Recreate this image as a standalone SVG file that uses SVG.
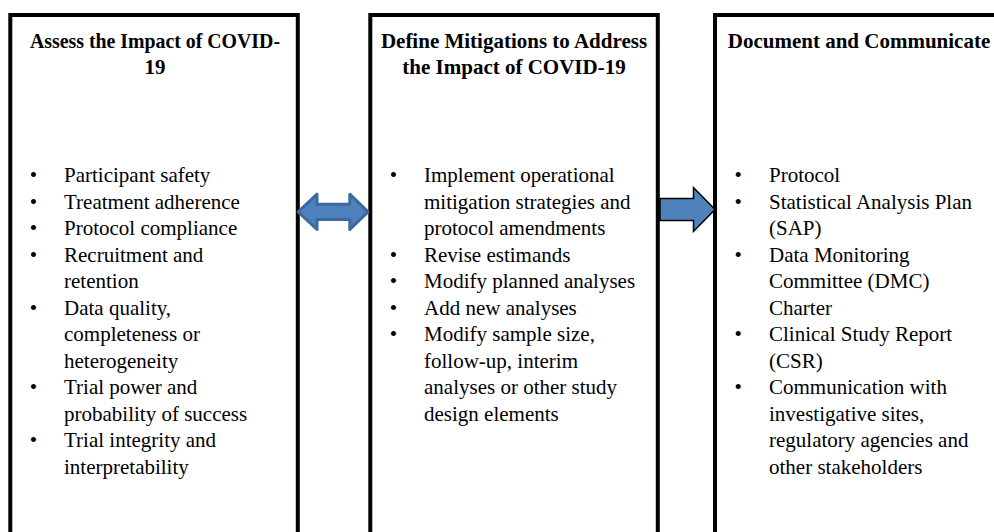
<svg xmlns="http://www.w3.org/2000/svg" width="994" height="532" viewBox="0 0 994 532">
<style>
.box{fill:#fff;stroke:#000;stroke-width:4}
.title{font-family:"Liberation Serif","Times New Roman",serif;font-size:21px;font-weight:bold;fill:#000;text-anchor:middle}
.body{font-family:"Liberation Serif","Times New Roman",serif;font-size:21px;fill:#000}
.dbl{fill:#4F81BD;stroke:#3C6A9E;stroke-width:3;stroke-linejoin:round}
.sgl{fill:#4F81BD;stroke:#000;stroke-width:1.5;stroke-linejoin:miter}
</style>
<rect width="994" height="532" fill="#fff"/>
<g id="assess">
<rect class="box" x="10.3" y="15" width="287.5" height="560"/>
<text class="title" x="155"><tspan x="155" y="47.5" textLength="250" lengthAdjust="spacingAndGlyphs">Assess the Impact of COVID-</tspan><tspan x="155" y="74">19</tspan></text>
<text class="body">
<tspan x="29.8" y="182">•</tspan><tspan x="64" y="182">Participant safety</tspan>
<tspan x="29.8" y="208.5">•</tspan><tspan x="64" y="208.5">Treatment adherence</tspan>
<tspan x="29.8" y="235">•</tspan><tspan x="64" y="235">Protocol compliance</tspan>
<tspan x="29.8" y="261.5">•</tspan><tspan x="64" y="261.5">Recruitment and</tspan>
<tspan x="64" y="288">retention</tspan>
<tspan x="29.8" y="314.5">•</tspan><tspan x="64" y="314.5">Data quality,</tspan>
<tspan x="64" y="341">completeness or</tspan>
<tspan x="64" y="367.5">heterogeneity</tspan>
<tspan x="29.8" y="394">•</tspan><tspan x="64" y="394">Trial power and</tspan>
<tspan x="64" y="420.5">probability of success</tspan>
<tspan x="29.8" y="447">•</tspan><tspan x="64" y="447">Trial integrity and</tspan>
<tspan x="64" y="473.5">interpretability</tspan>
</text>
</g>
<g id="define">
<rect class="box" x="370.3" y="15" width="287.5" height="560"/>
<text class="title" x="514"><tspan x="514" y="47.5">Define Mitigations to Address</tspan><tspan x="514" y="74">the Impact of COVID-19</tspan></text>
<text class="body">
<tspan x="389.8" y="182">•</tspan><tspan x="424" y="182">Implement operational</tspan>
<tspan x="424" y="208.5">mitigation strategies and</tspan>
<tspan x="424" y="235">protocol amendments</tspan>
<tspan x="389.8" y="261.5">•</tspan><tspan x="424" y="261.5">Revise estimands</tspan>
<tspan x="389.8" y="288">•</tspan><tspan x="424" y="288">Modify planned analyses</tspan>
<tspan x="389.8" y="314.5">•</tspan><tspan x="424" y="314.5">Add new analyses</tspan>
<tspan x="389.8" y="341">•</tspan><tspan x="424" y="341">Modify sample size,</tspan>
<tspan x="424" y="367.5">follow-up, interim</tspan>
<tspan x="424" y="394">analyses or other study</tspan>
<tspan x="424" y="420.5">design elements</tspan>
</text>
</g>
<g id="document">
<rect class="box" x="715" y="15" width="287.5" height="560"/>
<text class="title" x="859"><tspan x="859" y="47.5">Document and Communicate</tspan></text>
<text class="body">
<tspan x="734.5" y="182">•</tspan><tspan x="769" y="182">Protocol</tspan>
<tspan x="734.5" y="208.5">•</tspan><tspan x="769" y="208.5">Statistical Analysis Plan</tspan>
<tspan x="769" y="235">(SAP)</tspan>
<tspan x="734.5" y="261.5">•</tspan><tspan x="769" y="261.5">Data Monitoring</tspan>
<tspan x="769" y="288">Committee (DMC)</tspan>
<tspan x="769" y="314.5">Charter</tspan>
<tspan x="734.5" y="341">•</tspan><tspan x="769" y="341">Clinical Study Report</tspan>
<tspan x="769" y="367.5">(CSR)</tspan>
<tspan x="734.5" y="394">•</tspan><tspan x="769" y="394">Communication with</tspan>
<tspan x="769" y="420.5">investigative sites,</tspan>
<tspan x="769" y="447">regulatory agencies and</tspan>
<tspan x="769" y="473.5">other stakeholders</tspan>
</text>
</g>
<g id="connectors">
<path class="dbl" d="M298.2,211.8 L317,194.2 V204.2 H349.8 V194.2 L368,211.8 L349.8,229.5 V219.4 H317 V229.5 Z"/>
<path class="sgl" d="M660,198.5 H693.5 V187.5 L715,209.5 L693.5,231.5 V220.5 H660 Z"/>
</g>
</svg>
